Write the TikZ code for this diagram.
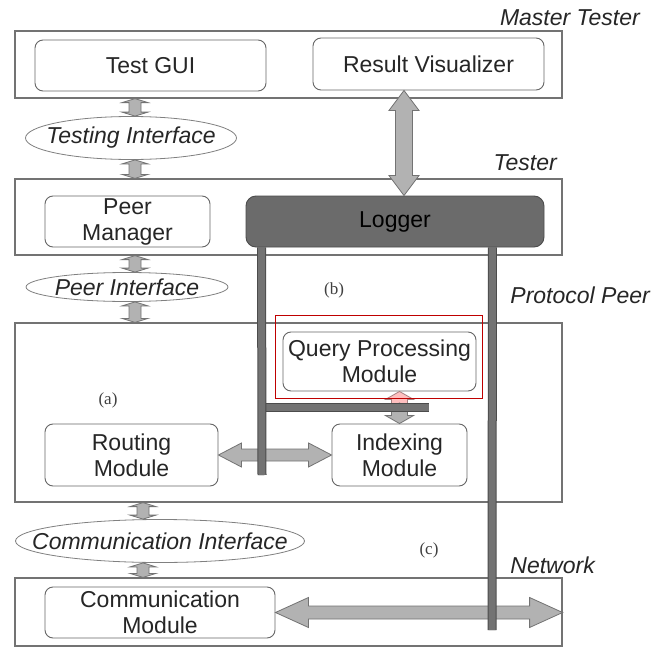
\documentclass[tikz,border=0pt]{standalone}
\usepackage{fontspec}
\setmainfont{Liberation Sans}
\newfontfamily\casefont{Liberation Serif}
\usetikzlibrary{calc,shapes.geometric,positioning}

\newcommand\diafont{\fontsize{23}{26}\selectfont}
\tikzset{
  layer/.style={draw=black!55, line width=1.2pt, inner sep=0pt},
  module/.style={draw=black!60, line width=0.9pt, rounded corners=8pt, align=center, text=black!85, inner sep=0pt},
  iface/.style={ellipse, draw=black!50, line width=0.8pt, font=\diafont\itshape, text=black!85, inner sep=0pt},
  title/.style={font=\diafont\itshape, text=black!85, inner sep=0pt},
  caselabel/.style={font=\casefont\fontsize{17}{19}\selectfont, text=black!75, inner sep=0pt},
  fat/.style={draw=black!55, fill=black!30, line width=0.8pt},
  bar/.style={draw=black!70, line width=1pt, double=black!55, double distance=7pt},
}

% fat double arrows: [style]{from}{to}{axis ref}{half shaft}{half head}{head length}
\newcommand\vfat[7][]{%
  \filldraw[fat,#1] let \p1=(#2), \p2=(#3), \p3=(#4) in
    (\x3,\y1) -- ({\x3+#6},{\y1-#7}) -- ({\x3+#5},{\y1-#7}) -- ({\x3+#5},{\y2+#7}) -- ({\x3+#6},{\y2+#7}) -- (\x3,\y2)
    -- ({\x3-#6},{\y2+#7}) -- ({\x3-#5},{\y2+#7}) -- ({\x3-#5},{\y1-#7}) -- ({\x3-#6},{\y1-#7}) -- cycle;}
\newcommand\hfat[7][]{%
  \filldraw[fat,#1] let \p1=(#2), \p2=(#3), \p3=(#4) in
    (\x1,\y3) -- ({\x1+#7},{\y3+#6}) -- ({\x1+#7},{\y3+#5}) -- ({\x2-#7},{\y3+#5}) -- ({\x2-#7},{\y3+#6}) -- (\x2,\y3)
    -- ({\x2-#7},{\y3-#6}) -- ({\x2-#7},{\y3-#5}) -- ({\x1+#7},{\y3-#5}) -- ({\x1+#7},{\y3-#6}) -- cycle;}

\begin{document}
\begin{tikzpicture}[x=1pt,y=-1pt,font=\diafont]
\useasboundingbox[fill=white] (0,0) rectangle (654,648);
% layers
\node[layer, minimum width=547, minimum height=67] (master) at (288.5,64.5) {};
\node[layer, minimum width=547, minimum height=76] (tester) at (288.5,217) {};
\node[layer, minimum width=547, minimum height=179] (peer) at (288.5,412.5) {};
\node[layer, minimum width=547, minimum height=68] (network) at (288.5,612) {};
\node[title, anchor=east] (mastertitle) at (640,18) {Master Tester};
\node[title, anchor=east] (testertitle) at (557,163) {Tester};
\node[title, anchor=east] (peertitle) at (650,295) {Protocol Peer};
\node[title, anchor=east] (nettitle) at (595,565) {Network};
% modules
\node[module, minimum width=231, minimum height=51] (gui) at (150.5,65.5) {Test GUI};
\node[module, minimum width=231, minimum height=52] (rv) at (428.5,64) {Result Visualizer};
\node[module, minimum width=165, minimum height=51] (pm) at (127.5,221.5) {Peer\\Manager};
\node[module, fill=black!58, draw=black!70, text=black, rounded corners=10pt, minimum width=298, minimum height=51] (logger) at (395,221.5) {Logger};
\node[module, minimum width=193, minimum height=59] (qp) at (379.5,361.5) {Query Processing\\Module};
\node[module, minimum width=173, minimum height=62] (rm) at (131.5,455) {Routing\\Module};
\node[module, minimum width=135, minimum height=62] (im) at (399.5,455) {Indexing\\Module};
\node[module, minimum width=230, minimum height=51] (cm) at (160,612.5) {Communication\\Module};
% interfaces
\node[iface, minimum width=211, minimum height=43] (ti) at (131,138) {\makebox[0pt]{Testing Interface}};
\node[iface, minimum width=202, minimum height=29] (pi) at (127,287) {\makebox[0pt]{Peer Interface}};
\node[iface, minimum width=289, minimum height=43] (ci) at (160,541) {\makebox[0pt]{Communication Interface}};
% arrows
\coordinate (lbarend) at (262,475);
\coordinate (rbarend) at (492,630);
\coordinate (hbarend) at (429,407.5);
\coordinate (hbartop) at (429,403);
\coordinate (hbarbot) at (429,412);
\vfat{master.south}{ti.north}{[xshift=4pt]ti.center}{6pt}{13pt}{4pt}
\vfat{ti.south}{tester.north}{[xshift=4pt]ti.center}{6pt}{13pt}{4pt}
\vfat{tester.south}{pi.north}{[xshift=8pt]pi.center}{6pt}{13pt}{4pt}
\vfat{pi.south}{peer.north}{[xshift=8pt]pi.center}{6pt}{13pt}{4pt}
\vfat{peer.south}{ci.north}{[xshift=-17pt]ci.center}{6pt}{13pt}{4pt}
\vfat{ci.south}{network.north}{[xshift=-17pt]ci.center}{6pt}{13pt}{4pt}
\vfat{rv.south}{logger.north}{[xshift=-24.5pt]rv.center}{8.5pt}{15pt}{20pt}
\vfat[fill=red!25, draw=red!30!black!50]{qp.south}{hbarbot}{im.center}{8pt}{14pt}{8pt}
\vfat{hbartop}{im.north}{im.center}{8pt}{14pt}{8pt}
\hfat{rm.east}{im.west}{rm.center}{6pt}{12pt}{23pt}
\hfat{cm.east}{network.east}{cm.center}{6.5pt}{15pt}{33pt}
% logger taps
\draw[bar] (hbarend -| lbarend) -- (hbarend);
\draw[bar] ([xshift=16pt]logger.south west) -- (lbarend);
\draw[bar] ([xshift=-52pt]logger.south east) -- (rbarend);
% highlight
\draw[red!75!black, line width=0.8pt] (275,315) rectangle (482,398);
% cases
\node[caselabel] (casea) at (108,400) {(a)};
\node[caselabel] (caseb) at (334,290) {(b)};
\node[caselabel] (casec) at (429,550) {(c)};
\end{tikzpicture}
\end{document}
